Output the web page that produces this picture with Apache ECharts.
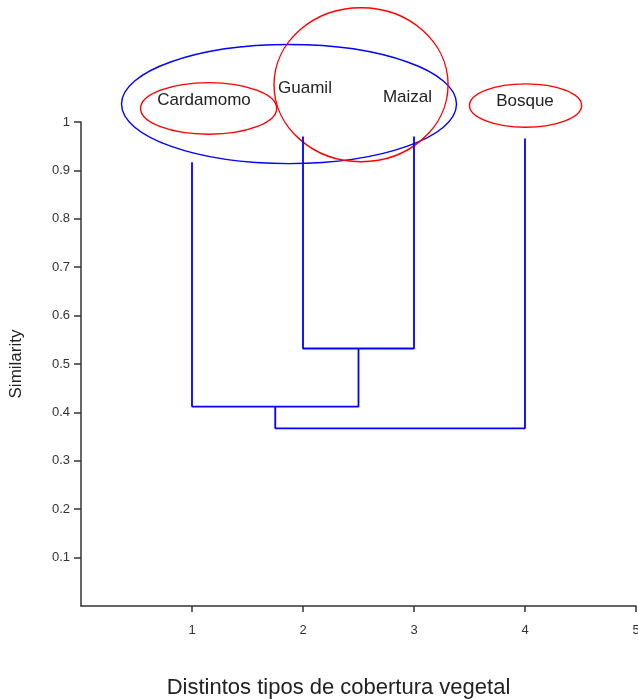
<!DOCTYPE html>
<html>
<head>
<meta charset="utf-8">
<script src="https://cdn.jsdelivr.net/npm/echarts@6/dist/echarts.min.js"></script>
<style>html,body{margin:0;padding:0;background:#fff;overflow:hidden}#c{width:638px;height:699px}</style>
</head>
<body>
<div id="c"></div>
<script>
// Leaves of the dendrogram
const leafNames = ['Cardamomo', 'Guamil', 'Maizal', 'Bosque'];
const leafX = [1, 2, 3, 4];
const leafTop = [0.917, 0.97, 0.97, 0.966];

// Merges (left child, right child, merge similarity)
const mergeLeftX = [2, 1, 1.75];
const mergeLeftTop = [0.97, 0.917, 0.412];
const mergeRightX = [3, 2.5, 4];
const mergeRightTop = [0.97, 0.532, 0.966];
const mergeHeight = [0.532, 0.412, 0.367];

// Annotation ellipses (data units)
const ellipseCX = [1.874, 1.150, 2.523, 4.005];
const ellipseCY = [1.037, 1.028, 1.077, 1.034];
const ellipseRX = [1.509, 0.613, 0.784, 0.505];
const ellipseRY = [0.123, 0.0533, 0.159, 0.0448];

// Leaf label positions (data units)
const labelX = [1.108, 2.018, 2.941, 4.0];
const labelY = [1.044, 1.070, 1.050, 1.042];

// Axis ticks
const yTicks = [0.1, 0.2, 0.3, 0.4, 0.5, 0.6, 0.7, 0.8, 0.9, 1];
const xTicks = [1, 2, 3, 4, 5];

const ellipseColors = ['#0000ff', '#ff0000', '#ff0000', '#ff0000'];
const lineColor = '#0000ff';
const fontFam = '"Liberation Sans", Arial, sans-serif';

const chart = echarts.init(document.getElementById('c'));

const dendroSeries = mergeHeight.map((h, i) => ({
  type: 'line',
  showSymbol: false,
  silent: true,
  animation: false,
  clip: false,
  lineStyle: { color: lineColor, width: 1.8 },
  data: [
    [mergeLeftX[i], mergeLeftTop[i]],
    [mergeLeftX[i], h],
    [mergeRightX[i], h],
    [mergeRightX[i], mergeRightTop[i]]
  ]
}));

chart.setOption({
  animation: false,
  backgroundColor: '#fff',
  grid: { left: 81, top: 122, right: 2, bottom: 93, containLabel: false, outerBoundsMode: 'none' },
  xAxis: {
    type: 'value', min: 0, max: 5, interval: 1,
    name: 'Distintos tipos de cobertura vegetal',
    nameLocation: 'middle', nameGap: 71,
    nameTextStyle: { fontFamily: fontFam, fontSize: 22, color: '#222', padding: [0, 40, 0, 0] },
    axisLine: { onZero: false, lineStyle: { color: '#333', width: 1.5 } },
    axisTick: { length: 6, customValues: xTicks, lineStyle: { color: '#333', width: 1.5 } },
    axisLabel: { margin: 18, fontFamily: fontFam, fontSize: 13, color: '#333', customValues: xTicks,
      formatter: v => String(v) },
    splitLine: { show: false }
  },
  yAxis: {
    type: 'value', min: 0, max: 1, interval: 0.1,
    name: 'Similarity',
    nameLocation: 'middle', nameGap: 56, nameRotate: 90,
    nameTextStyle: { fontFamily: fontFam, fontSize: 17, color: '#222' },
    axisLine: { show: true, lineStyle: { color: '#333', width: 1.5 } },
    axisTick: { show: true, length: 7, customValues: yTicks, lineStyle: { color: '#333', width: 1.5 } },
    axisLabel: { margin: 11, fontFamily: fontFam, fontSize: 13, color: '#333', customValues: yTicks,
      formatter: v => String(Math.round(v * 10) / 10) },
    splitLine: { show: false }
  },
  series: [
    ...dendroSeries,
    {
      type: 'custom',
      silent: true,
      clip: false,
      data: ellipseCX.map((cx, i) => [cx, ellipseCY[i], ellipseRX[i], ellipseRY[i], i]),
      renderItem: (params, api) => {
        const c = api.coord([api.value(0), api.value(1)]);
        const s = api.size([api.value(2), api.value(3)]);
        return {
          type: 'ellipse',
          shape: { cx: c[0], cy: c[1], rx: s[0], ry: s[1] },
          style: { fill: null, stroke: ellipseColors[api.value(4)], lineWidth: 1.4 }
        };
      }
    },
    {
      type: 'custom',
      silent: true,
      clip: false,
      data: labelX.map((x, i) => [x, labelY[i], i]),
      renderItem: (params, api) => {
        const c = api.coord([api.value(0), api.value(1)]);
        return {
          type: 'text',
          style: {
            text: leafNames[api.value(2)], x: c[0], y: c[1],
            align: 'center', verticalAlign: 'middle',
            font: '17px ' + fontFam, fill: '#222'
          }
        };
      }
    }
  ]
});
</script>
</body>
</html>
